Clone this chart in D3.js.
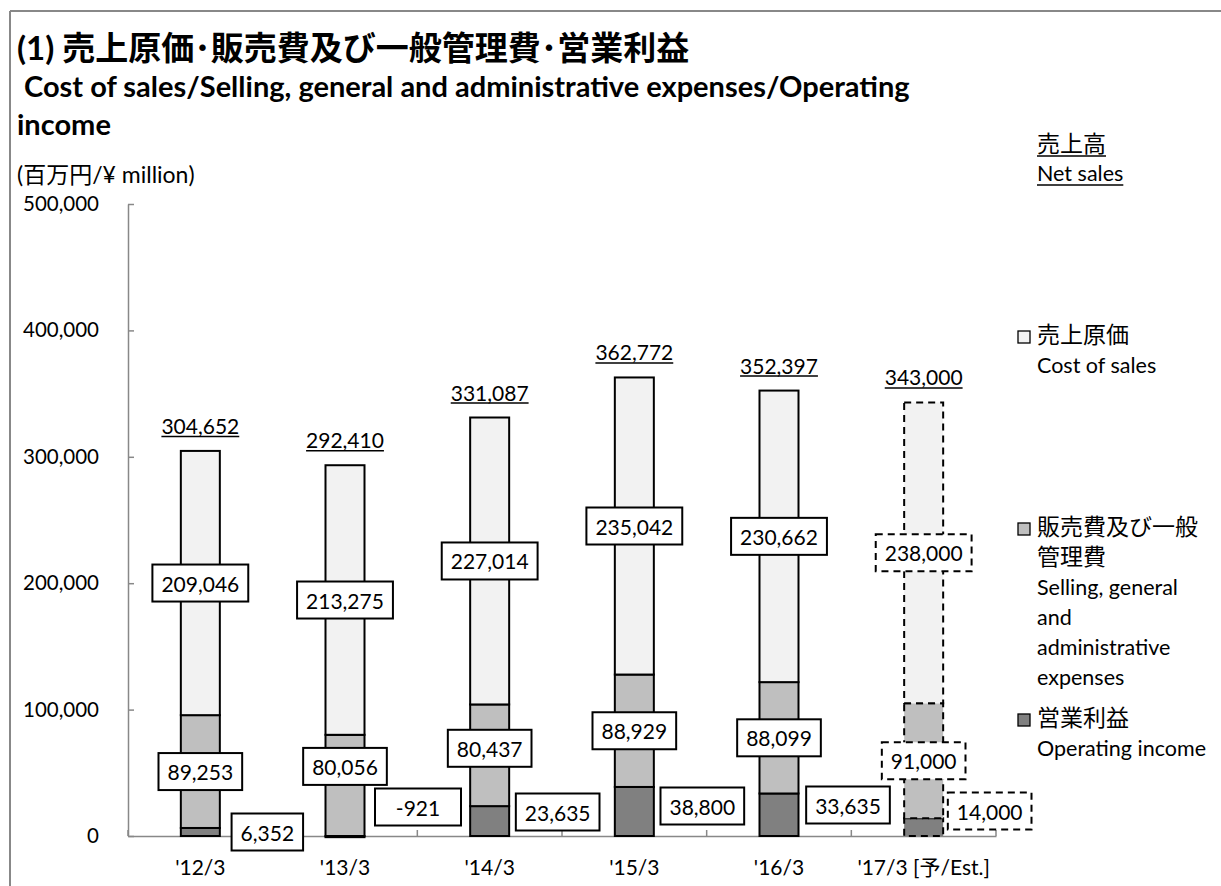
<!DOCTYPE html>
<html>
<head>
<meta charset="utf-8">
<script src="https://cdn.jsdelivr.net/npm/d3@7"></script>
<style>
  html, body { margin: 0; padding: 0; background: #fff; }
  svg text { font-family: "Lato", "Noto Sans CJK JP", sans-serif; fill: #000; }
</style>
</head>
<body>
<svg id="chart" width="1221" height="886"></svg>
<script>
// ---- data ----
const categories = ["'12/3", "'13/3", "'14/3", "'15/3", "'16/3", "'17/3 [予/Est.]"];
const netSales = [304652, 292410, 331087, 362772, 352397, 343000];
const costOfSales = [209046, 213275, 227014, 235042, 230662, 238000];
const sgaExpenses = [89253, 80056, 80437, 88929, 88099, 91000];
const operatingIncome = [6352, -921, 23635, 38800, 33635, 14000];
const isEstimate = [false, false, false, false, false, true];
const yTickValues = [0, 100000, 200000, 300000, 400000, 500000];

const titleLines = ["(1) 売上原価･販売費及び一般管理費･営業利益",
                    " Cost of sales/Selling, general and administrative expenses/Operating",
                    "income"];
const unitLabel = "(百万円/¥ million)";
const netSalesLegend = ["売上高", "Net sales"];
const seriesLegend = [
  { key: "cost", lines: ["売上原価", "Cost of sales"] },
  { key: "sga", lines: ["販売費及び一般", "管理費", "Selling, general", "and", "administrative", "expenses"] },
  { key: "op", lines: ["営業利益", "Operating income"] }
];

// ---- layout / styles (not data) ----
const colors = { cost: "#f2f2f2", sga: "#bfbfbf", op: "#808080" };
const axisColor = "#888888";
const numFont = 21;
const barWidth = 39;
// label nudges (pixels) for annotation placement
const sgaLabelDy = [0, -19, -7, 0, 0, 0];
const opLabelDx = [67, 73, 68, 68, 69, 66];
const opLabelDy = [-4, -29, -24, -30, -31, -25];

const svg = d3.select("#chart");
const locale = d3.formatLocale({ decimal: ".", thousands: ",", grouping: [3], currency: ["", ""], minus: "-" });
const fmt = locale.format(",");
const isCJK = s => /[\u3000-\u9fff\uff00-\uffef]/.test(s);

// frame
svg.append("line").attr("x1", 10).attr("x2", 1221).attr("y1", 11).attr("y2", 11)
  .attr("stroke", axisColor).attr("stroke-width", 2);
svg.append("line").attr("x1", 10).attr("x2", 10).attr("y1", 11).attr("y2", 886)
  .attr("stroke", axisColor).attr("stroke-width", 2);

// titles
svg.append("text").attr("x", 17).attr("y", 60).attr("font-size", 33).attr("font-weight", "bold")
  .text(titleLines[0]);
svg.append("text").attr("x", 17).attr("y", 97).attr("font-size", 29).attr("font-weight", "bold")
  .attr("xml:space", "preserve").style("white-space", "pre").text(titleLines[1]);
svg.append("text").attr("x", 17).attr("y", 135).attr("font-size", 29).attr("font-weight", "bold")
  .text(titleLines[2]);
svg.append("text").attr("x", 17).attr("y", 183).attr("font-size", 23).text(unitLabel);

// scales
const y = d3.scaleLinear().domain([0, 500000]).range([836, 204]);
const x = d3.scaleBand().domain(categories).range([128, 996]).padding(0);
const cx = c => x(c) + x.bandwidth() / 2;

// y axis
const yAxis = svg.append("g").attr("transform", "translate(128,0)")
  .call(d3.axisLeft(y).tickValues(yTickValues).tickFormat(fmt).tickSize(-6).tickSizeOuter(0).tickPadding(29));
yAxis.select(".domain").attr("stroke", axisColor).attr("stroke-width", 1.5);
yAxis.selectAll(".tick line").attr("stroke", axisColor).attr("stroke-width", 1.5);
yAxis.selectAll(".tick text").attr("font-size", 20.5).attr("font-family", "Lato, sans-serif").attr("fill", "#000");

// x axis
const xAxis = svg.append("g").attr("transform", "translate(0,836)")
  .call(d3.axisBottom(x).tickSize(0).tickPadding(24));
xAxis.select(".domain").attr("stroke", axisColor).attr("stroke-width", 1.5);
xAxis.selectAll(".tick text").attr("font-size", numFont).attr("font-family", "Lato, 'Noto Sans CJK JP', sans-serif").attr("fill", "#000");
// boundary ticks
const bounds = categories.map(c => x(c)).concat([x.range()[1]]);
svg.append("g").selectAll("line").data(bounds).join("line")
  .attr("x1", d => d).attr("x2", d => d).attr("y1", 836).attr("y2", 830)
  .attr("stroke", axisColor).attr("stroke-width", 1.5);

// stacked segments
const rows = categories.map((c, i) => {
  const op = operatingIncome[i];
  const opBase = Math.max(op, 0);
  const sgaTop = opBase + sgaExpenses[i];
  const costTop = sgaTop + costOfSales[i];
  return {
    c, i, est: isEstimate[i],
    segs: [
      { key: "op", y0: Math.min(op, 0), y1: opBase, v: op },
      { key: "sga", y0: opBase, y1: sgaTop, v: sgaExpenses[i] },
      { key: "cost", y0: sgaTop, y1: costTop, v: costOfSales[i] }
    ],
    top: costTop
  };
});

const barsG = svg.append("g");
rows.forEach(r => {
  r.segs.forEach(s => {
    barsG.append("rect")
      .attr("x", cx(r.c) - barWidth / 2)
      .attr("y", y(s.y1))
      .attr("width", barWidth)
      .attr("height", Math.max(0.5, y(s.y0) - y(s.y1)))
      .attr("fill", colors[s.key])
      .attr("stroke", "#000")
      .attr("stroke-width", 2)
      .attr("stroke-dasharray", r.est ? "7,5" : null);
  });
});

// boxed labels
const labelsG = svg.append("g");
function boxLabel(text, xc, yc, dashed, minW) {
  const g = labelsG.append("g");
  const rect = g.append("rect");
  const t = g.append("text").attr("x", xc).attr("y", yc).attr("text-anchor", "middle")
    .attr("dominant-baseline", "central").attr("font-size", numFont).text(text);
  const tw = t.node().getComputedTextLength();
  const w = Math.max(tw + 18, minW || 0), h = 37;
  rect.attr("x", xc - w / 2).attr("y", yc - h / 2).attr("width", w).attr("height", h)
    .attr("fill", "#fff").attr("stroke", "#000").attr("stroke-width", 2)
    .attr("stroke-dasharray", dashed ? "7,5" : null);
}

rows.forEach(r => {
  const c = r.c, i = r.i;
  const [op, sga, cost] = r.segs;
  boxLabel(fmt(cost.v), cx(c), y((cost.y0 + cost.y1) / 2), r.est);
  boxLabel(fmt(sga.v), cx(c), y((sga.y0 + sga.y1) / 2) + sgaLabelDy[i], r.est);
  boxLabel(fmt(op.v), cx(c) + opLabelDx[i], y(0) + opLabelDy[i], r.est, op.v < 0 ? 86 : 0);
  // net sales (underlined) above bar
  const base = y(r.top) - 17;
  const t = labelsG.append("text").attr("x", cx(c)).attr("y", base).attr("text-anchor", "middle")
    .attr("font-size", numFont).text(fmt(netSales[i]));
  const tw = t.node().getComputedTextLength();
  labelsG.append("line").attr("x1", cx(c) - tw / 2).attr("x2", cx(c) + tw / 2)
    .attr("y1", base + 2.5).attr("y2", base + 2.5).attr("stroke", "#000").attr("stroke-width", 1.5);
});

// legend
const lg = svg.append("g");
const lx = 1037;
[152, 181].forEach((yy, k) => {
  const txt = netSalesLegend[k];
  const t = lg.append("text").attr("x", lx).attr("y", yy).attr("font-size", isCJK(txt) ? 23 : 21.5).text(txt);
  const tw = t.node().getComputedTextLength();
  lg.append("line").attr("x1", lx).attr("x2", lx + tw).attr("y1", yy + 4).attr("y2", yy + 4)
    .attr("stroke", "#000").attr("stroke-width", 1.5);
});
const legendTop = { cost: 343, sga: 535, op: 726 };
seriesLegend.forEach(item => {
  const y0 = legendTop[item.key];
  lg.append("rect").attr("x", 1018).attr("y", y0 - 12).attr("width", 12).attr("height", 12)
    .attr("fill", colors[item.key]).attr("stroke", "#000").attr("stroke-width", 1.3);
  item.lines.forEach((ln, k) => {
    lg.append("text").attr("x", lx).attr("y", y0 + k * 30).attr("font-size", isCJK(ln) ? 23 : 21.5).text(ln);
  });
});
</script>
</body>
</html>
